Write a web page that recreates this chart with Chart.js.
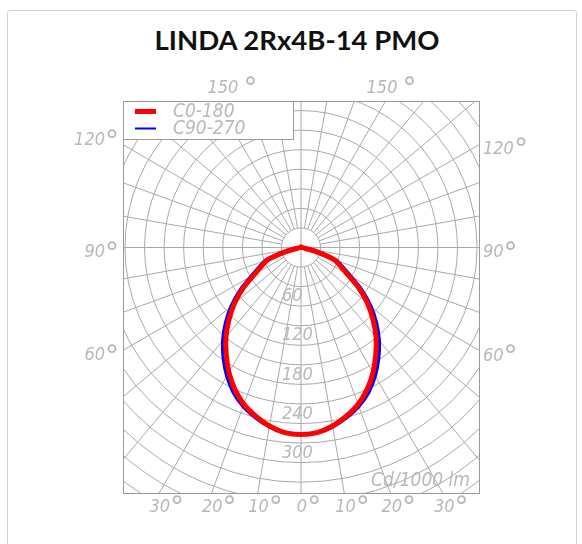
<!DOCTYPE html>
<html>
<head>
<meta charset="utf-8">
<script src="https://cdn.jsdelivr.net/npm/chart.js@4/dist/chart.umd.min.js"></script>
<style>
  html, body { margin: 0; padding: 0; background: #fff; width: 582px; height: 544px; overflow: hidden; }
  #frame { position: absolute; left: 7px; top: 10px; width: 568px; height: 600px; border: 1px solid #d2d2d2; border-radius: 3px; }
  #title { position: absolute; left: 6px; top: 23px; width: 582px; text-align: center; font: 700 27.5px Lato, sans-serif; color: #111; }
  #wrap { position: absolute; left: 0; top: 0; width: 582px; height: 544px; }
</style>
</head>
<body>
<div id="frame"></div>
<div id="title">LINDA 2Rx4B-14 PMO</div>
<div id="wrap"><canvas id="polar" width="582" height="544"></canvas></div>
<script>
// gamma angles (deg from nadir) and intensities in cd/1000 lm
const gammaAngles = [0, 5, 10, 15, 20, 25, 30, 35, 40, 45, 50, 55, 60, 65, 70, 75, 80, 85, 90,
  95, 100, 105, 110, 115, 120, 125, 130, 135, 140, 145, 150, 155, 160, 165, 170, 175, 180];
const c0_180 = [287, 285, 278, 268, 256, 240, 221, 200, 179, 156, 133, 108, 82, 66, 54, 24, 5, 2, 1,
  1, 1, 1, 1, 1, 1, 1, 1, 1, 1, 1, 1, 1, 1, 1, 1, 1, 1];
const c90_270 = [286, 285, 279, 270, 259, 245, 227, 207, 186, 163, 139, 113, 87, 70, 56, 25, 5, 2, 1,
  1, 1, 1, 1, 1, 1, 1, 1, 1, 1, 1, 1, 1, 1, 1, 1, 1, 1];

const ringLabels = [60, 120, 180, 240, 300];
const ringStep = 30;
const spokeStep = 10;
const bottomTicks = [-30, -20, -10, 0, 10, 20, 30];
const sideTicks = [60, 90, 120];
const topTicks = [150];

const labelColor = '#b8b8b8';
const labelFont = 'italic 18px "Liberation Sans Narrow", "DejaVu Sans Condensed", sans-serif';
const degFont = '28px "DejaVu Sans", sans-serif';

function toXY(I, g, side) {
  const t = g * Math.PI / 180;
  return { x: side * I * Math.sin(t), y: -I * Math.cos(t) };
}

// closed outline: one half plane on the left, the other on the right
function outline(values) {
  const pts = [];
  for (let i = gammaAngles.length - 1; i >= 0; i--) pts.push(toXY(values[i], gammaAngles[i], -1));
  for (let i = 1; i < gammaAngles.length; i++) pts.push(toXY(values[i], gammaAngles[i], 1));
  return pts;
}

function degLabel(ctx, num, x, y, align) {
  ctx.font = labelFont;
  const w1 = ctx.measureText(num).width;
  ctx.font = degFont;
  const w2 = ctx.measureText('°').width;
  const gap = 0;
  const total = w1 + gap + w2;
  let left = x;
  if (align === 'center') left = x - total / 2;
  if (align === 'right') left = x - total;
  ctx.textAlign = 'left';
  ctx.textBaseline = 'middle';
  ctx.font = labelFont;
  ctx.fillText(num, left, y);
  ctx.font = degFont;
  ctx.fillText('°', left + w1 + gap, y + 2);
}

const polarGrid = {
  id: 'polarGrid',
  beforeDatasetsDraw(chart) {
    const { ctx, chartArea: a, scales: { x, y } } = chart;
    const cx = x.getPixelForValue(0), cy = y.getPixelForValue(0);
    const px = v => x.getPixelForValue(v) - cx;
    ctx.save();
    ctx.beginPath();
    ctx.rect(a.left, a.top, a.right - a.left, a.bottom - a.top);
    ctx.clip();
    ctx.strokeStyle = '#a9a9a9';
    ctx.lineWidth = 1;
    for (let r = ringStep; r <= 480; r += ringStep) {
      ctx.beginPath();
      ctx.arc(cx, cy, px(r), 0, 2 * Math.PI);
      ctx.stroke();
    }
    for (let g = 0; g < 360; g += spokeStep) {
      const t = g * Math.PI / 180;
      const r0 = g % 90 === 0 ? 0 : px(ringStep);
      const r1 = px(520);
      ctx.beginPath();
      ctx.moveTo(cx + r0 * Math.sin(t), cy + r0 * Math.cos(t));
      ctx.lineTo(cx + r1 * Math.sin(t), cy + r1 * Math.cos(t));
      ctx.stroke();
    }
    ctx.restore();
  },
  afterDraw(chart) {
    const { ctx, chartArea: a, scales: { x, y } } = chart;
    const cx = x.getPixelForValue(0), cy = y.getPixelForValue(0);
    const px = v => x.getPixelForValue(v) - cx;
    ctx.save();
    ctx.strokeStyle = '#9a9a9a';
    ctx.lineWidth = 1;
    ctx.strokeRect(a.left + 0.5, a.top + 0.5, a.right - a.left - 1, a.bottom - a.top - 1);

    // where a ray at angle g (from nadir) leaves the plot box
    const exit = g => {
      const t = g * Math.PI / 180, dx = Math.sin(t), dy = Math.cos(t);
      let k = Infinity;
      if (dx > 1e-9) k = Math.min(k, (a.right - cx) / dx);
      if (dx < -1e-9) k = Math.min(k, (a.left - cx) / dx);
      if (dy > 1e-9) k = Math.min(k, (a.bottom - cy) / dy);
      if (dy < -1e-9) k = Math.min(k, (a.top - cy) / dy);
      return { x: cx + k * dx, y: cy + k * dy };
    };

    ctx.fillStyle = labelColor;
    bottomTicks.forEach(g => {
      const p = exit(g);
      degLabel(ctx, String(Math.abs(g)), p.x + 8, a.bottom + 13, 'center');
    });
    sideTicks.forEach(g => {
      const pl = exit(-g), pr = exit(g);
      degLabel(ctx, String(g), a.left - 4, pl.y + (g > 90 ? -4 : 5), 'right');
      degLabel(ctx, String(g), a.right + 3, pr.y + 5, 'left');
    });
    topTicks.forEach(g => {
      const pl = exit(-g), pr = exit(g);
      degLabel(ctx, String(g) + ' ', pl.x + 16, a.top - 13, 'center');
      degLabel(ctx, String(g) + ' ', pr.x + 6, a.top - 13, 'center');
    });

    ctx.font = labelFont;
    ctx.textAlign = 'left';
    ctx.textBaseline = 'middle';
    ringLabels.forEach(v => ctx.fillText(String(v), cx - 19, cy + px(v) + 10));

    ctx.textAlign = 'right';
    ctx.font = 'italic 19px "Liberation Sans Narrow", "DejaVu Sans Condensed", sans-serif';
    ctx.fillText('Cd/1000 lm', a.right - 10, a.bottom - 13);

    // legend box
    const lw = 170, lh = 38;
    ctx.fillStyle = '#fff';
    ctx.fillRect(a.left, a.top, lw, lh);
    ctx.strokeStyle = '#9a9a9a';
    ctx.lineWidth = 1;
    ctx.strokeRect(a.left + 0.5, a.top + 0.5, lw, lh);
    chart.data.datasets.forEach((ds, i) => {
      const ly = a.top + 10.5 + i * 17;
      ctx.strokeStyle = ds.borderColor;
      ctx.lineWidth = i === 0 ? 5 : 2;
      ctx.beginPath();
      ctx.moveTo(a.left + 12, ly);
      ctx.lineTo(a.left + 33, ly);
      ctx.stroke();
      ctx.fillStyle = labelColor;
      ctx.font = 'italic 19px "Liberation Sans Narrow", "DejaVu Sans Condensed", sans-serif';
      ctx.textAlign = 'left';
      ctx.textBaseline = 'middle';
      ctx.fillText(ds.label, a.left + 50, ly + 1);
    });
    ctx.restore();
  }
};

const pxPerCd = 0.652;
const centerX = 301, centerY = 247.5;
const box = { left: 123, right: 480, top: 101, bottom: 494 };

new Chart(document.getElementById('polar'), {
  type: 'scatter',
  data: {
    datasets: [
      {
        label: 'C0-180',
        data: outline(c0_180),
        showLine: true,
        borderColor: '#ff0000',
        borderWidth: 5,
        pointRadius: 0,
        tension: 0.3
      },
      {
        label: 'C90-270',
        data: outline(c90_270),
        showLine: true,
        borderColor: '#0000ff',
        borderWidth: 4,
        pointRadius: 0,
        tension: 0.3
      }
    ]
  },
  options: {
    responsive: false,
    animation: false,
    devicePixelRatio: 1,
    layout: {
      padding: { left: box.left, right: 582 - box.right, top: box.top, bottom: 544 - box.bottom }
    },
    scales: {
      x: { type: 'linear', display: false, min: -(centerX - box.left) / pxPerCd, max: (box.right - centerX) / pxPerCd },
      y: { type: 'linear', display: false, min: -(box.bottom - centerY) / pxPerCd, max: (centerY - box.top) / pxPerCd }
    },
    plugins: {
      legend: { display: false },
      title: { display: false },
      tooltip: { enabled: false }
    }
  },
  plugins: [polarGrid]
});
</script>
</body>
</html>
